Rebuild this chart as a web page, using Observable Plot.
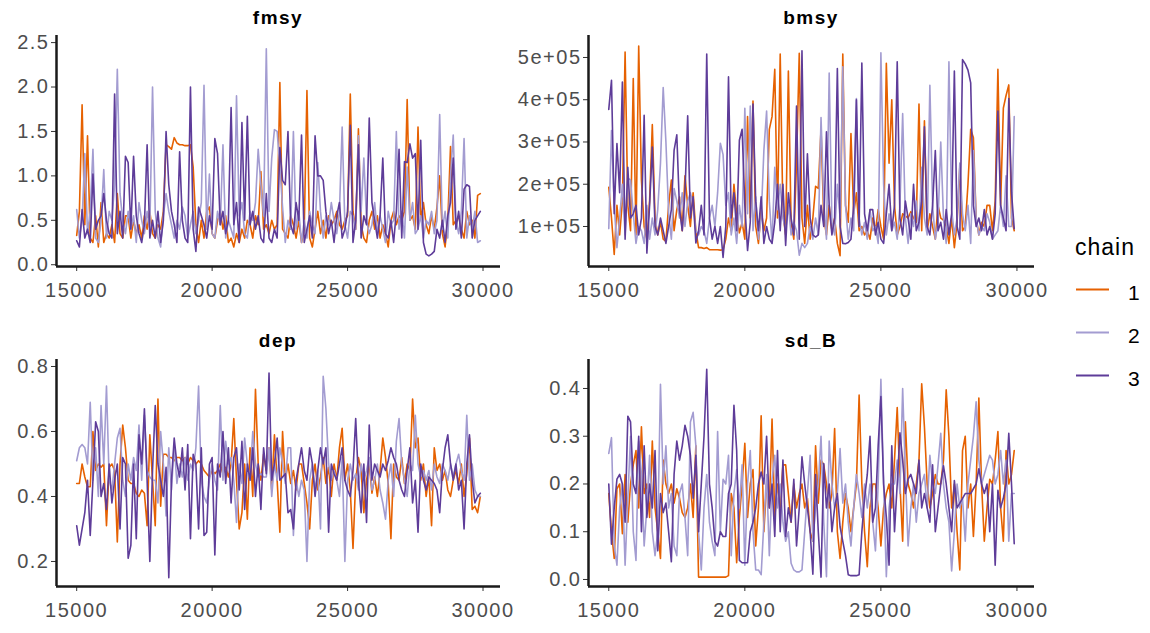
<!DOCTYPE html>
<html>
<head>
<meta charset="utf-8">
<script src="https://cdn.jsdelivr.net/npm/d3@7"></script>
<script src="https://cdn.jsdelivr.net/npm/@observablehq/plot@0.6"></script>
<style>
  html, body { margin: 0; padding: 0; background: #ffffff; }
  #chart { position: relative; width: 1150px; height: 633px; overflow: hidden; font-family: "Liberation Sans", Arial, sans-serif; }
  #chart .panel { position: absolute; }
  #chart svg text { letter-spacing: 1.5px; }
  #overlay { position: absolute; left: 0; top: 0; pointer-events: none; }
</style>
</head>
<body>
<div id="chart"></div>
<script>
// ---------- data ----------
const chains = ["1", "2", "3"];
const chainColors = ["#e66101", "#a39cd1", "#5e3c99"];
const iterations = d3.range(15000, 30000, 100); // 150 saved iterations

const xTicks = [15000, 20000, 25000, 30000];
const fmsyTicks = [0, 0.5, 1, 1.5, 2, 2.5];
const bmsyTicks = [100000, 200000, 300000, 400000, 500000];
const bmsyTickLabels = ["1e+05", "2e+05", "3e+05", "4e+05", "5e+05"];
const depTicks = [0.2, 0.4, 0.6, 0.8];
const sdBTicks = [0, 0.1, 0.2, 0.3, 0.4];

const fmsy1 = [
  0.33,0.6,1.8,0.45,1.45,0.3,0.25,0.55,0.2,0.7,
  0.25,0.35,0.3,0.45,0.25,0.8,0.35,0.3,0.55,0.55,
  0.3,0.5,0.35,0.45,0.3,0.55,0.4,0.6,0.35,0.3,
  0.45,0.4,0.6,1.35,1.33,1.3,1.43,1.37,1.35,1.35,
  1.34,1.34,1.35,1.1,0.45,0.25,0.5,0.3,0.6,0.65,
  0.35,0.3,0.5,0.6,0.4,0.55,0.25,0.3,0.2,0.35,
  0.25,0.4,0.3,0.5,0.45,0.3,0.55,0.45,1.05,0.4,
  0.45,0.35,0.5,0.4,0.45,2.05,0.4,0.35,0.3,0.55,
  0.45,0.3,0.5,0.25,0.4,1.96,0.3,0.2,0.4,0.6,
  0.35,0.5,0.3,0.55,0.45,0.5,0.6,0.45,0.4,0.5,
  0.55,1.92,0.6,0.4,1.53,0.45,0.3,0.25,0.5,0.6,
  0.4,0.55,0.3,0.45,0.35,0.2,0.5,0.6,0.45,0.55,
  0.5,0.6,1.86,0.5,0.55,0.4,1.55,0.5,0.7,0.45,
  0.35,0.55,0.4,0.65,1.0,0.35,0.2,0.5,1.33,0.45,
  0.5,0.55,0.4,0.3,0.6,0.45,0.5,0.3,0.78,0.8
];
const fmsy2 = [
  0.62,0.3,0.5,1.25,0.35,0.6,1.3,0.3,0.25,0.5,
  1.07,0.3,0.6,0.5,0.9,2.2,0.8,0.5,0.35,0.6,
  0.4,0.55,0.25,0.7,0.5,0.35,0.6,0.4,2.0,0.6,
  0.3,0.2,0.55,0.8,0.6,0.45,0.3,0.5,0.4,0.65,
  0.55,0.3,0.45,0.6,0.35,0.5,0.7,2.02,0.4,1.02,
  0.35,0.3,0.6,0.45,1.35,0.3,0.5,0.4,0.3,1.9,
  0.55,0.7,0.35,0.3,0.6,0.5,0.7,1.3,0.9,0.55,
  2.43,0.6,1.2,1.52,1.5,1.1,0.65,0.25,0.5,0.4,
  1.5,0.4,0.6,0.25,0.5,0.3,0.6,0.45,0.35,1.15,
  0.6,0.3,0.55,0.45,0.7,0.5,0.35,0.6,1.55,0.45,
  0.3,0.6,0.55,0.4,1.45,0.6,1.2,0.5,0.35,0.45,
  0.7,0.35,0.55,0.4,0.25,0.6,0.45,0.5,1.5,0.4,
  0.6,0.3,1.1,0.5,0.7,0.35,0.4,0.55,0.3,0.5,
  0.45,0.6,0.35,0.5,1.69,0.4,0.6,0.3,1.0,1.46,
  0.5,0.35,0.6,1.42,0.3,0.55,0.4,0.6,0.25,0.27
];
const fmsy3 = [
  0.27,0.2,0.62,0.3,0.4,0.25,1.02,0.4,0.5,0.55,
  0.8,0.5,0.35,0.3,1.92,0.35,0.6,0.3,1.22,1.15,
  0.4,1.22,0.55,0.35,0.25,0.45,1.35,0.3,0.5,0.3,
  0.6,0.25,0.5,1.5,0.9,0.6,0.45,0.25,1.27,0.5,
  0.3,0.25,2.0,0.4,0.15,0.65,0.55,0.45,0.3,0.55,
  0.4,1.42,1.25,0.45,0.6,0.35,0.5,1.77,0.45,0.7,
  0.25,1.6,0.5,1.67,0.45,0.6,0.4,0.55,0.3,0.25,
  0.8,0.3,0.25,0.4,0.3,1.32,0.95,0.9,1.5,0.45,
  0.35,0.7,0.5,1.46,0.25,0.4,0.55,0.3,1.45,1.0,
  1.0,0.95,0.6,0.35,0.5,0.25,0.55,0.7,0.3,0.4,
  0.6,1.57,0.25,0.5,1.35,0.3,0.55,0.45,1.65,0.7,
  0.5,0.3,0.55,1.2,0.35,0.3,0.5,0.25,0.6,1.3,
  0.3,1.16,1.15,1.36,1.2,1.25,0.4,1.4,0.25,0.12,
  0.1,0.12,0.15,0.4,0.3,0.5,0.25,0.55,0.7,1.2,
  0.4,0.6,0.3,0.85,0.9,0.88,0.3,0.5,0.55,0.6
];

const bmsy1 = [
  1.93e5,1.2e5,0.34e5,1.5e5,0.8e5,1.6e5,5.13e5,1.5e5,0.9e5,4.5e5,
  0.8e5,5.27e5,2.1e5,1.0e5,0.7e5,1.6e5,3.41e5,1.2e5,0.8e5,1.1e5,
  0.7e5,0.65e5,1.5e5,2.1e5,0.9e5,1.4e5,1.7e5,0.9e5,2.2e5,1.5e5,
  1.0e5,1.8e5,0.9e5,0.5e5,0.5e5,0.48e5,0.5e5,0.45e5,0.45e5,0.45e5,
  0.45e5,0.44e5,0.45e5,0.7e5,1.2e5,0.9e5,2.0e5,1.3e5,0.85e5,1.1e5,
  0.7e5,3.6e5,1.2e5,3.97e5,1.0e5,0.6e5,1.4e5,0.9e5,1.2e5,3.3e5,
  3.6e5,4.72e5,1.2e5,5.08e5,1.3e5,0.8e5,4.68e5,1.1e5,0.7e5,2.5e5,
  5.1e5,1.2e5,0.6e5,1.5e5,0.7e5,1.2e5,1.95e5,1.9e5,3.3e5,1.2e5,
  0.8e5,1.5e5,0.9e5,1.2e5,0.6e5,0.31e5,5.08e5,1.5e5,1.1e5,3.2e5,
  1.3e5,1.8e5,0.9e5,1.0e5,0.8e5,0.9e5,0.7e5,1.2e5,0.9e5,1.4e5,
  1.0e5,0.7e5,4.86e5,2.5e5,4.0e5,1.5e5,0.8e5,1.0e5,1.3e5,1.25e5,
  1.2e5,1.35e5,1.2e5,1.1e5,3.9e5,0.9e5,3.5e5,0.9e5,1.3e5,1.0e5,
  0.7e5,1.5e5,1.2e5,1.15e5,1.0e5,0.6e5,1.2e5,0.5e5,1.1e5,2.4e5,
  0.9e5,1.0e5,2.0e5,3.3e5,3.1e5,1.2e5,0.8e5,1.1e5,1.0e5,1.5e5,
  1.5e5,0.9e5,1.6e5,4.72e5,1.5e5,3.8e5,4.1e5,4.35e5,1.2e5,0.9e5
];
const bmsy2 = [
  0.95e5,3.27e5,1.5e5,0.5e5,1.2e5,2.0e5,0.8e5,2.15e5,2.1e5,1.3e5,
  0.6e5,1.0e5,0.9e5,0.6e5,1.5e5,0.7e5,1.2e5,0.8e5,1.4e5,2.5e5,
  4.29e5,3.0e5,1.3e5,0.7e5,1.9e5,1.6e5,1.2e5,1.8e5,1.0e5,1.6e5,
  1.8e5,1.5e5,0.9e5,0.8e5,1.0e5,0.9e5,0.6e5,1.2e5,1.5e5,1.0e5,
  1.8e5,2.97e5,2.7e5,1.5e5,1.8e5,0.8e5,1.2e5,0.6e5,1.5e5,1.0e5,
  3.8e5,1.3e5,3.85e5,0.9e5,1.7e5,0.7e5,1.2e5,2.8e5,3.73e5,1.6e5,
  0.6e5,2.4e5,1.4e5,2.0e5,1.2e5,0.9e5,1.5e5,0.8e5,1.1e5,0.9e5,
  0.32e5,0.6e5,0.5e5,0.6e5,1.0e5,0.7e5,1.2e5,0.8e5,3.58e5,1.6e5,
  0.7e5,4.63e5,1.1e5,0.8e5,2.0e5,1.2e5,4.78e5,1.5e5,0.7e5,1.2e5,
  0.9e5,4.03e5,1.2e5,0.8e5,1.1e5,0.7e5,1.4e5,0.9e5,1.0e5,0.6e5,
  5.11e5,2.0e5,0.8e5,1.3e5,0.9e5,1.1e5,0.7e5,1.5e5,3.67e5,1.2e5,
  0.6e5,1.3e5,1.0e5,1.6e5,0.9e5,2.4e5,1.2e5,0.8e5,4.34e5,1.5e5,
  0.7e5,1.1e5,3.0e5,1.2e5,0.6e5,4.9e5,1.4e5,0.8e5,1.2e5,2.5e5,
  1.3e5,0.9e5,1.5e5,0.6e5,2.8e5,1.2e5,0.8e5,1.0e5,0.9e5,1.3e5,
  1.1e5,0.7e5,0.8e5,0.9e5,1.5e5,1.0e5,2.2e5,1.0e5,1.0e5,3.6e5
];
const bmsy3 = [
  3.77e5,4.46e5,1.3e5,2.96e5,1.8e5,4.42e5,0.7e5,2.4e5,1.2e5,1.3e5,
  1.5e5,0.8e5,1.2e5,3.63e5,0.37e5,1.5e5,2.88e5,1.0e5,0.8e5,1.2e5,
  0.9e5,0.6e5,1.0e5,1.4e5,2.8e5,3.17e5,1.4e5,0.9e5,1.8e5,3.62e5,
  1.2e5,1.7e5,0.61e5,0.9e5,1.5e5,0.8e5,5.08e5,1.2e5,0.7e5,1.0e5,
  0.6e5,1.0e5,0.27e5,1.0e5,4.54e5,1.2e5,1.8e5,0.9e5,3.04e5,3.3e5,
  1.5e5,0.43e5,1.1e5,3.9e5,1.6e5,0.9e5,1.7e5,0.6e5,1.0e5,0.7e5,
  0.6e5,1.1e5,2.0e5,0.9e5,2.0e5,0.55e5,1.8e5,1.2e5,0.8e5,3.85e5,
  0.7e5,5.16e5,1.0e5,2.72e5,1.2e5,0.8e5,0.75e5,0.8e5,1.5e5,1.0e5,
  3.24e5,1.5e5,0.8e5,1.2e5,4.74e5,1.0e5,0.6e5,0.59e5,0.62e5,0.7e5,
  1.5e5,4.0e5,1.0e5,4.87e5,1.3e5,0.9e5,1.4e5,1.4e5,0.8e5,1.1e5,
  0.7e5,0.6e5,1.3e5,2.0e5,0.9e5,1.5e5,4.9e5,1.2e5,0.8e5,1.6e5,
  1.2e5,0.7e5,2.0e5,0.9e5,1.1e5,1.6e5,3.36e5,1.0e5,0.8e5,1.5e5,
  2.8e5,0.9e5,1.1e5,0.7e5,1.4e5,0.8e5,1.3e5,4.68e5,1.0e5,0.7e5,
  4.95e5,4.85e5,4.7e5,4.4e5,1.5e5,1.0e5,1.2e5,0.9e5,1.4e5,0.8e5,
  1.0e5,0.7e5,1.3e5,3.73e5,1.5e5,1.2e5,0.9e5,4.03e5,1.8e5,0.95e5
];

const dep1 = [
  0.44,0.44,0.5,0.46,0.43,0.43,0.6,0.48,0.5,0.49,
  0.5,0.31,0.49,0.5,0.48,0.26,0.5,0.62,0.55,0.45,
  0.44,0.44,0.41,0.4,0.42,0.41,0.31,0.59,0.45,0.31,
  0.7,0.37,0.53,0.53,0.52,0.52,0.51,0.52,0.52,0.51,
  0.52,0.5,0.52,0.51,0.5,0.51,0.5,0.48,0.47,0.46,
  0.48,0.47,0.48,0.5,0.47,0.49,0.46,0.5,0.64,0.45,
  0.3,0.35,0.5,0.33,0.55,0.4,0.73,0.5,0.45,0.53,
  0.48,0.55,0.42,0.59,0.45,0.29,0.6,0.45,0.5,0.44,
  0.48,0.42,0.5,0.5,0.44,0.38,0.3,0.45,0.5,0.42,
  0.46,0.52,0.44,0.49,0.4,0.5,0.45,0.55,0.61,0.45,
  0.5,0.42,0.24,0.45,0.52,0.48,0.35,0.45,0.5,0.41,
  0.46,0.4,0.48,0.58,0.52,0.44,0.27,0.5,0.46,0.45,
  0.52,0.44,0.5,0.48,0.7,0.55,0.58,0.45,0.5,0.4,
  0.46,0.31,0.55,0.48,0.5,0.45,0.48,0.42,0.4,0.45,
  0.48,0.44,0.5,0.4,0.47,0.58,0.36,0.37,0.35,0.4
];
const dep2 = [
  0.51,0.55,0.56,0.55,0.5,0.69,0.45,0.55,0.4,0.68,
  0.5,0.74,0.45,0.42,0.5,0.58,0.61,0.45,0.4,0.5,
  0.45,0.52,0.48,0.62,0.45,0.65,0.48,0.46,0.45,0.45,
  0.38,0.6,0.5,0.34,0.55,0.42,0.56,0.44,0.5,0.46,
  0.52,0.45,0.5,0.48,0.55,0.74,0.45,0.4,0.38,0.45,
  0.5,0.45,0.42,0.68,0.45,0.57,0.5,0.52,0.45,0.32,
  0.5,0.44,0.58,0.5,0.45,0.6,0.5,0.46,0.47,0.46,
  0.46,0.55,0.4,0.5,0.45,0.55,0.5,0.44,0.55,0.55,
  0.28,0.45,0.4,0.45,0.42,0.2,0.45,0.5,0.42,0.48,
  0.3,0.77,0.67,0.5,0.45,0.48,0.45,0.4,0.52,0.2,
  0.45,0.5,0.45,0.47,0.42,0.5,0.45,0.48,0.52,0.42,
  0.45,0.5,0.42,0.38,0.33,0.45,0.5,0.4,0.57,0.64,
  0.5,0.45,0.4,0.5,0.48,0.65,0.5,0.46,0.48,0.45,
  0.48,0.42,0.5,0.46,0.44,0.5,0.48,0.45,0.5,0.46,
  0.5,0.53,0.48,0.45,0.65,0.45,0.5,0.42,0.4,0.4
];
const dep3 = [
  0.31,0.25,0.3,0.35,0.45,0.28,0.45,0.63,0.6,0.4,
  0.44,0.36,0.5,0.38,0.45,0.5,0.3,0.52,0.5,0.21,
  0.25,0.5,0.27,0.59,0.5,0.67,0.45,0.2,0.48,0.68,
  0.5,0.45,0.4,0.49,0.15,0.45,0.58,0.5,0.46,0.55,
  0.42,0.56,0.27,0.53,0.5,0.3,0.55,0.28,0.29,0.5,
  0.52,0.22,0.5,0.46,0.6,0.44,0.55,0.38,0.52,0.55,
  0.42,0.57,0.36,0.5,0.45,0.55,0.4,0.5,0.36,0.55,
  0.47,0.78,0.45,0.5,0.58,0.45,0.46,0.47,0.35,0.36,
  0.3,0.45,0.5,0.55,0.48,0.45,0.55,0.5,0.4,0.48,
  0.55,0.5,0.55,0.29,0.5,0.47,0.45,0.5,0.55,0.45,
  0.42,0.4,0.48,0.64,0.45,0.35,0.5,0.32,0.62,0.45,
  0.5,0.48,0.46,0.5,0.48,0.51,0.55,0.52,0.5,0.45,
  0.42,0.4,0.48,0.55,0.38,0.45,0.29,0.5,0.45,0.42,
  0.46,0.45,0.44,0.42,0.35,0.48,0.55,0.59,0.5,0.45,
  0.5,0.42,0.45,0.3,0.5,0.59,0.45,0.38,0.4,0.41
];

const sdB1 = [
  0.18,0.1,0.044,0.19,0.2,0.096,0.22,0.12,0.2,0.24,
  0.27,0.15,0.32,0.18,0.2,0.13,0.29,0.15,0.1,0.044,
  0.25,0.2,0.18,0.2,0.16,0.19,0.17,0.14,0.13,0.15,
  0.2,0.13,0.28,0.005,0.005,0.005,0.005,0.005,0.005,0.005,
  0.005,0.005,0.005,0.005,0.008,0.18,0.15,0.035,0.13,0.2,
  0.285,0.13,0.2,0.23,0.07,0.15,0.343,0.1,0.2,0.15,
  0.336,0.13,0.2,0.15,0.24,0.24,0.18,0.12,0.2,0.15,
  0.18,0.2,0.15,0.17,0.1,0.08,0.28,0.16,0.25,0.24,
  0.2,0.15,0.18,0.316,0.1,0.044,0.12,0.18,0.15,0.1,
  0.15,0.2,0.386,0.2,0.1,0.027,0.15,0.2,0.2,0.15,
  0.07,0.15,0.18,0.2,0.15,0.25,0.36,0.2,0.08,0.33,
  0.2,0.18,0.15,0.2,0.25,0.41,0.32,0.2,0.15,0.18,
  0.22,0.2,0.2,0.25,0.397,0.3,0.15,0.2,0.1,0.02,
  0.27,0.3,0.15,0.2,0.09,0.2,0.38,0.2,0.08,0.15,
  0.21,0.2,0.25,0.31,0.15,0.08,0.27,0.2,0.22,0.27
];
const sdB2 = [
  0.264,0.297,0.07,0.03,0.15,0.2,0.03,0.17,0.3,0.1,
  0.04,0.29,0.22,0.07,0.15,0.26,0.1,0.05,0.1,0.409,
  0.2,0.28,0.15,0.18,0.07,0.05,0.18,0.2,0.13,0.05,
  0.33,0.35,0.28,0.1,0.02,0.15,0.22,0.12,0.08,0.05,
  0.31,0.1,0.21,0.2,0.26,0.05,0.18,0.23,0.15,0.24,
  0.03,0.2,0.27,0.1,0.02,0.02,0.01,0.12,0.22,0.05,
  0.21,0.26,0.15,0.2,0.12,0.08,0.1,0.034,0.02,0.016,
  0.016,0.02,0.1,0.18,0.26,0.08,0.15,0.2,0.3,0.12,
  0.006,0.29,0.2,0.15,0.18,0.274,0.16,0.2,0.12,0.07,
  0.15,0.22,0.18,0.13,0.2,0.15,0.2,0.12,0.06,0.2,
  0.419,0.2,0.006,0.15,0.2,0.2,0.25,0.18,0.4,0.22,
  0.07,0.15,0.2,0.12,0.18,0.2,0.22,0.15,0.26,0.2,
  0.18,0.24,0.306,0.2,0.15,0.12,0.018,0.1,0.2,0.15,
  0.17,0.08,0.2,0.25,0.3,0.372,0.25,0.2,0.22,0.24,
  0.26,0.25,0.2,0.22,0.27,0.2,0.25,0.08,0.18,0.18
];
const sdB3 = [
  0.2,0.074,0.15,0.21,0.22,0.2,0.12,0.342,0.33,0.2,
  0.18,0.3,0.1,0.28,0.13,0.2,0.15,0.27,0.06,0.18,
  0.14,0.16,0.1,0.037,0.22,0.29,0.25,0.28,0.323,0.3,
  0.26,0.17,0.26,0.1,0.2,0.3,0.44,0.2,0.15,0.08,
  0.07,0.1,0.09,0.09,0.18,0.2,0.365,0.27,0.04,0.035,
  0.035,0.035,0.1,0.12,0.15,0.2,0.225,0.2,0.3,0.15,
  0.2,0.09,0.27,0.1,0.25,0.09,0.15,0.12,0.21,0.07,
  0.15,0.257,0.2,0.15,0.1,0.011,0.22,0.1,0.005,0.243,
  0.15,0.2,0.1,0.15,0.18,0.11,0.08,0.05,0.01,0.008,
  0.008,0.008,0.01,0.1,0.17,0.22,0.3,0.12,0.15,0.28,
  0.383,0.2,0.13,0.03,0.28,0.1,0.2,0.307,0.25,0.18,
  0.21,0.22,0.2,0.18,0.25,0.15,0.18,0.15,0.12,0.24,
  0.1,0.15,0.2,0.238,0.2,0.15,0.1,0.207,0.15,0.16,
  0.17,0.18,0.18,0.18,0.19,0.2,0.232,0.2,0.18,0.2,
  0.1,0.2,0.03,0.187,0.15,0.17,0.2,0.306,0.2,0.075
];

// ---------- layout ----------
const xDomain = [14255, 30645];
const FONT = "'Liberation Sans', Arial, Helvetica, sans-serif";

function toRows(series) {
  return chains.flatMap((c, k) => series[k].map((v, i) => ({iter: iterations[i], value: v, chain: c})));
}

const panels = [
  {title: "fmsy", series: [fmsy1, fmsy2, fmsy3], yDomain: [-0.02, 2.58], ticks: fmsyTicks, fmt: d3.format(".1f"),
   left: 0, top: 0, width: 510, height: 300, mt: 35, mb: 34, ml: 56, mr: 10},
  {title: "bmsy", series: [bmsy1, bmsy2, bmsy3], yDomain: [5300, 552000], ticks: bmsyTicks, fmt: d => bmsyTickLabels[bmsyTicks.indexOf(d)],
   left: 530, top: 0, width: 514, height: 300, mt: 35, mb: 34, ml: 58, mr: 10},
  {title: "dep", series: [dep1, dep2, dep3], yDomain: [0.123, 0.8215], ticks: depTicks, fmt: d3.format(".1f"),
   left: 0, top: 320, width: 510, height: 313, mt: 39, mb: 47, ml: 56, mr: 10},
  {title: "sd_B", series: [sdB1, sdB2, sdB3], yDomain: [-0.0147, 0.4607], ticks: sdBTicks, fmt: d3.format(".1f"),
   left: 530, top: 320, width: 514, height: 313, mt: 39, mb: 47, ml: 58, mr: 10}
];

const chart = document.getElementById("chart");

for (const p of panels) {
  const rows = toRows(p.series);
  const svg = Plot.plot({
    width: p.width,
    height: p.height,
    marginTop: p.mt, marginBottom: p.mb, marginLeft: p.ml, marginRight: p.mr,
    style: `background: transparent; font-family: ${FONT}; font-size: 20px; overflow: visible;`,
    x: {domain: xDomain, axis: null},
    y: {domain: p.yDomain, axis: null},
    color: {domain: chains, range: chainColors},
    marks: [
      Plot.axisX({ticks: xTicks, tickFormat: d => String(d), tickSize: 5, tickPadding: 11, label: null,
                  stroke: "#333333", fill: "#4d4d4d", fontSize: 20}),
      Plot.axisY({ticks: p.ticks, tickFormat: p.fmt, tickSize: 5, tickPadding: 2, label: null,
                  stroke: "#333333", fill: "#4d4d4d", fontSize: 20}),
      Plot.lineY(rows, {x: "iter", y: "value", z: "chain", stroke: "chain", strokeWidth: 1.6}),
      Plot.ruleX([xDomain[0]], {stroke: "#1a1a1a", strokeWidth: 2.5}),
      Plot.ruleY([p.yDomain[0]], {stroke: "#1a1a1a", strokeWidth: 2.5})
    ]
  });
  svg.classList.add("panel");
  svg.style.left = p.left + "px";
  svg.style.top = p.top + "px";
  svg.style.position = "absolute";
  chart.appendChild(svg);
}

// ---------- titles and legend overlay ----------
const overlay = d3.select(chart).append("svg")
  .attr("id", "overlay")
  .attr("width", 1150).attr("height", 633)
  .style("font-family", FONT);

const titleBaselines = [24, 24, 347, 347];
panels.forEach((p, k) => {
  overlay.append("text")
    .attr("x", p.left + (p.ml + (p.width - p.mr)) / 2)
    .attr("y", titleBaselines[k])
    .attr("text-anchor", "middle")
    .attr("font-weight", "bold")
    .attr("font-size", 19)
    .attr("fill", "#000")
    .text(p.title);
});

const legend = overlay.append("g").attr("transform", "translate(1060,225)");
legend.append("text").attr("x", 15).attr("y", 30)
  .attr("font-size", 23).attr("fill", "#000").style("letter-spacing", "1px").text("chain");
chains.forEach((c, k) => {
  legend.append("line")
    .attr("x1", 16).attr("x2", 49)
    .attr("y1", 64.5 + 43 * k).attr("y2", 64.5 + 43 * k)
    .attr("stroke", chainColors[k]).attr("stroke-width", 2);
  legend.append("text")
    .attr("x", 68).attr("y", 74.5 + 43 * k)
    .attr("font-size", 21).attr("fill", "#000")
    .text(c);
});
</script>
</body>
</html>
